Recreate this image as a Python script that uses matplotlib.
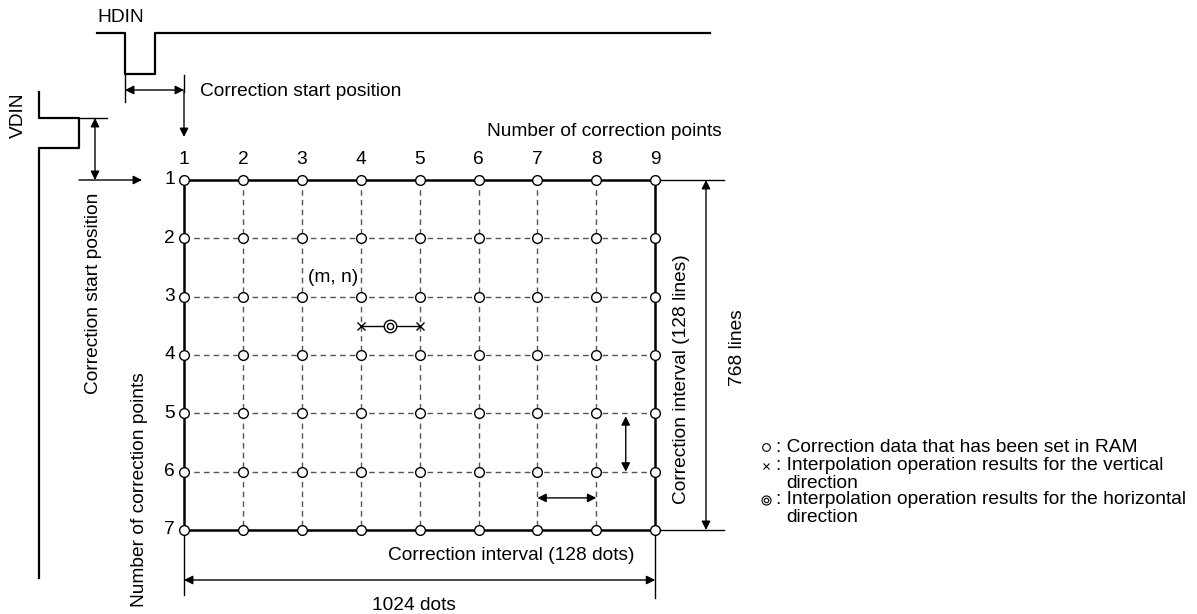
import numpy as np
import matplotlib
matplotlib.use('Agg')
import matplotlib.pyplot as plt

plt.rcParams['font.family'] = ['Liberation Sans', 'DejaVu Sans']

# correction grid
cols = [1, 2, 3, 4, 5, 6, 7, 8, 9]
rows = [1, 2, 3, 4, 5, 6, 7]
col_labels = ['1', '2', '3', '4', '5', '6', '7', '8', '9']
row_labels = ['1', '2', '3', '4', '5', '6', '7']
# interpolation between (m, n) = (4, 3) and (5, 3), halfway to row 4
interp_cols = [4, 5]
interp_row = 3.5
legend_items = [
    ('o', 'Correction data that has been set in RAM'),
    ('x', 'Interpolation operation results for the vertical\ndirection'),
    ('oo', 'Interpolation operation results for the horizontal\ndirection'),
]

X0, DX = 184, 58.9
Y0, DY = 180, 58.33


def gx(c):
    return X0 + (np.asarray(c, dtype=float) - 1) * DX


def gy(r):
    return Y0 + (np.asarray(r, dtype=float) - 1) * DY


def arrow(ax, p1, p2, style='<|-|>'):
    ax.annotate('', xy=p2, xytext=p1,
                arrowprops=dict(arrowstyle=style, color='black', lw=1.0,
                                mutation_scale=13, shrinkA=0, shrinkB=0))


fig = plt.figure(figsize=(11.97, 6.14), dpi=100)
ax = fig.add_axes([0, 0, 1, 1])
ax.set_xlim(0, 1197)
ax.set_ylim(614, 0)
ax.axis('off')

FS = 13.8
xl, xr = gx(cols[0]), gx(cols[-1])
yt, yb = gy(rows[0]), gy(rows[-1])

# dashed inner grid
for c in cols[1:-1]:
    ax.plot([gx(c), gx(c)], [yt, yb], color='#555555', lw=1, ls=(0, (4, 3)), zorder=1)
for r in rows[1:-1]:
    ax.plot([xl, xr], [gy(r), gy(r)], color='#555555', lw=1, ls=(0, (4, 3)), zorder=1)
# solid frame
ax.plot([xl, xr, xr, xl, xl], [yt, yt, yb, yb, yt], color='black', lw=1.8, zorder=2)

# points
cc, rr = np.meshgrid(cols, rows)
ax.plot(gx(cc.ravel()), gy(rr.ravel()), 'o', ms=7, mfc='white', mec='black', mew=1, zorder=3)

for c, lab in zip(cols, col_labels):
    ax.text(gx(c), 160, lab, ha='center', va='center', fontsize=FS)
for r, lab in zip(rows, row_labels):
    ax.text(175, gy(r), lab, ha='right', va='center', fontsize=FS)

# interpolation markers
ix = gx(interp_cols)
iy = gy(interp_row)
ax.plot(ix, [iy, iy], color='black', lw=1, zorder=2)
ax.plot(ix, [iy, iy], 'x', ms=6, mec='black', mew=1, zorder=3)
mx = ix.mean()
ax.plot([mx], [iy], 'o', ms=9, mfc='white', mec='black', mew=1, zorder=3)
ax.plot([mx], [iy], 'o', ms=4.5, mfc='white', mec='black', mew=1, zorder=4)
ax.text(308, 278, '(m, n)', ha='left', va='center', fontsize=FS,
        bbox=dict(facecolor='white', edgecolor='none', pad=0.5))

# HDIN waveform
ax.plot([97, 125, 125, 155, 155, 710], [33, 33, 74, 74, 33, 33], color='black', lw=1.6)
ax.text(97, 17, 'HDIN', ha='left', va='center', fontsize=FS)
ax.plot([125, 125], [75, 102], color='black', lw=1)
ax.plot([xl, xl], [75, 92], color='black', lw=1)
arrow(ax, (125, 90), (xl, 90))
arrow(ax, (xl, 90), (xl, 137), '-|>')
ax.text(200, 91, 'Correction start position', ha='left', va='center', fontsize=FS)

# VDIN waveform
ax.plot([39, 39, 79, 79, 39, 39], [92, 118, 118, 148, 148, 578], color='black', lw=1.6)
ax.text(18, 115, 'VDIN', ha='center', va='center', rotation=90, fontsize=FS)
ax.plot([79, 107], [118, 118], color='black', lw=1)
arrow(ax, (95, 118), (95, yt))
arrow(ax, (79, yt), (142, yt), '-|>')
ax.text(93, 293, 'Correction start position', ha='center', va='center', rotation=90, fontsize=FS)
ax.text(140, 490, 'Number of correction points', ha='center', va='center', rotation=90, fontsize=FS)
ax.text(487, 132, 'Number of correction points', ha='left', va='center', fontsize=FS)

# right dimension
ax.plot([xr, 724], [yt, yt], color='black', lw=1)
ax.plot([xr, 724], [yb, yb], color='black', lw=1)
arrow(ax, (706, yt), (706, yb))
ax.text(737, 348, '768 lines', ha='center', va='center', rotation=90, fontsize=FS)
ax.text(682, 379, 'Correction interval (128 lines)', ha='center', va='center', rotation=90,
        fontsize=FS, bbox=dict(facecolor='white', edgecolor='none', pad=1))

# interval arrows inside grid
arrow(ax, (gx(8.5), gy(5.05)), (gx(8.5), gy(6)))
arrow(ax, (gx(7), gy(6.45)), (gx(8), gy(6.45)))

# bottom dimension
ax.plot([xl, xl], [yb, 595], color='black', lw=1)
ax.plot([xr, xr], [yb, 598], color='black', lw=1)
arrow(ax, (xl, 580), (xr, 580))
ax.text(635, 555, 'Correction interval (128 dots)', ha='right', va='center', fontsize=FS)
ax.text(414, 605, '1024 dots', ha='center', va='center', fontsize=FS)

# legend
ly = [447, 466, 500]
for (sym, txt), y in zip(legend_items, ly):
    if sym == 'o':
        ax.plot([766], [y], 'o', ms=5.5, mfc='white', mec='black', mew=0.8)
    elif sym == 'x':
        ax.plot([766], [y], 'x', ms=5, mec='black', mew=0.8)
    else:
        ax.plot([766], [y], 'o', ms=6.5, mfc='white', mec='black', mew=0.8)
        ax.plot([766], [y], 'o', ms=3.2, mfc='white', mec='black', mew=0.8)
    ax.text(776, y, ': ' + txt.split('\n')[0], ha='left', va='center', fontsize=FS)
    if '\n' in txt:
        ax.text(786, y + 17, txt.split('\n')[1], ha='left', va='center', fontsize=FS)

fig.savefig('out.png', dpi=100)
